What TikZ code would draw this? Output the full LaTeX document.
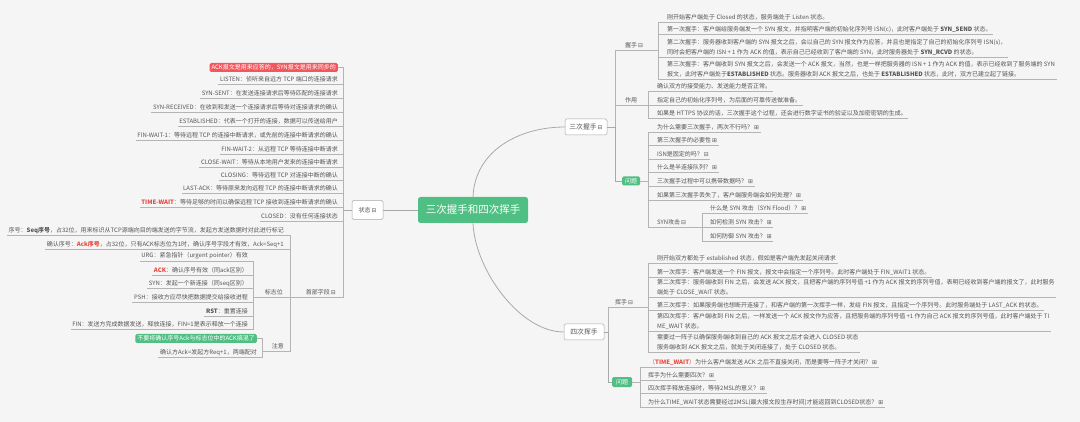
\documentclass[tikz,border=0pt]{standalone}
\usepackage{fontspec}
\setmainfont{Noto Sans CJK SC}
\newfontfamily\symf{DejaVu Sans}
\usetikzlibrary{calc}
\definecolor{bgc}{HTML}{F5F5F5}
\definecolor{txc}{HTML}{555555}
\definecolor{lnc}{HTML}{A9A9A9}
\definecolor{ulc}{HTML}{B4B4B4}
\definecolor{grn}{HTML}{50BF84}
\definecolor{redb}{HTML}{F2575D}
\definecolor{tred}{HTML}{E8483C}
\newcommand{\mn}{\,{\symf\fontsize{5.8}{5.8}\selectfont ⊟}}
\newcommand{\pl}{\,{\symf\fontsize{5.8}{5.8}\selectfont ⊞}}
\tikzset{
  txt/.style={inner sep=0pt,text=txc,font=\fontsize{6}{10.2}\selectfont},
  uline/.style={draw=ulc,line width=0.6pt},
  bline/.style={draw=lnc,line width=0.8pt},
  wbox/.style={draw=lnc,fill=white,rounded corners=1.5pt,text=txc,inner sep=0pt,line width=0.5pt},
  gbox/.style={fill=grn,rounded corners=1.5pt,text=white,inner sep=0pt,font=\fontsize{6}{6}\selectfont},
  rbox/.style={fill=redb,rounded corners=1.5pt,text=white,inner sep=0pt,font=\fontsize{6}{6}\selectfont}
}
% right item: name, parent coord, text x, underline y, text
\newcommand{\RI}[5]{%
  \node[txt,anchor=south west,align=left] (#1) at (#3,#4-1.4) {#5};
  \draw[uline] (#2) |- ($(#1.south east)+(1.5,1.4)$);}
% left item: name, parent coord, text right x, underline y, text
\newcommand{\LI}[5]{%
  \node[txt,anchor=south east,align=right] (#1) at (#3,#4-1.4) {#5};
  \draw[uline] (#2) |- ($(#1.south west)+(-1.5,1.4)$);}
\begin{document}
\begin{tikzpicture}[x=1pt,y=-1pt]
\useasboundingbox (0,0) rectangle (1080,422);
\fill[bgc] (0,0) rectangle (1080,422);

% central
\node[fill=grn,rounded corners=2.5pt,minimum width=110pt,minimum height=26pt,inner sep=0pt,text=white,font=\fontsize{10.5}{11}\selectfont] (c) at (473,210) {三次握手和四次挥手};

% ---------- three-way handshake ----------
\node[wbox,minimum width=42pt,minimum height=16pt,font=\fontsize{6.8}{7}\selectfont] (s3) at (586,127) {三次握手\mn};
\draw[bline] (c.north) .. controls (475,150) and (520,127) .. (s3.west);
\coordinate (p3) at (615,127);
\draw[bline] (s3.east) -- (p3);

\node[txt,anchor=south west] (ws) at (625,48.6) {握手\mn};
\coordinate (wsB) at (658,50);
\draw[uline] (p3) |- (wsB);
\RI{w1}{wsB}{667}{22}{刚开始客户端处于 Closed 的状态，服务端处于 Listen 状态。}
\RI{w2}{wsB}{667}{34}{第一次握手：客户端给服务端发一个 SYN 报文，并指明客户端的初始化序列号 ISN(c)，此时客户端处于 \textbf{SYN\_SEND} 状态。}
\RI{w3}{wsB}{667}{57}{第二次握手：服务器收到客户端的 SYN 报文之后，会以自己的 SYN 报文作为应答，并且也是指定了自己的初始化序列号 ISN(s)，\\同时会把客户端的 ISN + 1 作为 ACK 的值，表示自己已经收到了客户端的 SYN，此时服务器处于 \textbf{SYN\_RCVD} 的状态。}
\RI{w4}{wsB}{667}{79}{第三次握手：客户端收到 SYN 报文之后，会发送一个 ACK 报文，当然，也是一样把服务器的 ISN + 1 作为 ACK 的值，表示已经收到了服务端的 SYN\\报文，此时客户端处于\textbf{ESTABLISHED} 状态。服务器收到 ACK 报文之后，也处于 \textbf{ESTABLISHED} 状态，此时，双方已建立起了链接。}

\node[txt,anchor=south west] (zy) at (625,103.6) {作用};
\coordinate (zyB) at (648,105);
\draw[uline] (p3) |- (zyB);
\RI{z1}{zyB}{657}{91}{确认双方的接受能力、发送能力是否正常。}
\RI{z2}{zyB}{657}{105}{指定自己的初始化序列号，为后面的可靠传送做准备。}
\RI{z3}{zyB}{657}{118}{如果是 HTTPS 协议的话，三次握手这个过程，还会进行数字证书的验证以及加密密钥的生成。}

\node[gbox,minimum width=18pt,minimum height=9pt] (q3) at (631,181) {问题};
\draw[bline] (p3) |- (q3.west);
\coordinate (q3B) at (648,181);
\draw[uline] (q3.east) -- (q3B);
\RI{a1}{q3B}{657}{132}{为什么需要三次握手，两次不行吗？\pl}
\RI{a2}{q3B}{657}{145}{第三次握手的必要性\pl}
\RI{a3}{q3B}{657}{159}{ISN是固定的吗？\mn}
\RI{a4}{q3B}{657}{172}{什么是半连接队列？\pl}
\RI{a5}{q3B}{657}{186}{三次握手过程中可以携带数据吗？\pl}
\RI{a6}{q3B}{657}{200}{如果第三次握手丢失了，客户端服务端会如何处理？\pl}
\node[txt,anchor=south west] (syn) at (657,225.6) {SYN攻击\mn};
\coordinate (synB) at (702,227);
\draw[uline] (q3B) |- (synB);
\RI{b1}{synB}{710}{213}{什么是 SYN 攻击（SYN Flood）？\pl}
\RI{b2}{synB}{710}{227}{如何检测 SYN 攻击？\pl}
\RI{b3}{synB}{710}{241}{如何防御 SYN 攻击？\pl}

% ---------- four-way wave ----------
\node[wbox,minimum width=40pt,minimum height=16pt,font=\fontsize{6.8}{7}\selectfont] (s4) at (584,332) {四次挥手};
\draw[bline] (c.south) .. controls (475,270) and (520,332) .. (s4.west);
\coordinate (p4) at (608,332);
\draw[bline] (s4.east) -- (p4);

\node[txt,anchor=south west] (hs) at (615,305.6) {挥手\mn};
\coordinate (hsB) at (648,307);
\draw[uline] (p4) |- (hsB);
\RI{h1}{hsB}{657}{263}{刚开始双方都处于 established 状态，假如是客户端先发起关闭请求}
\RI{h2}{hsB}{657}{277}{第一次挥手：客户端发送一个 FIN 报文，报文中会指定一个序列号。此时客户端处于 FIN\_WAIT1 状态。}
\RI{h3}{hsB}{657}{297}{第二次挥手：服务端收到 FIN 之后，会发送 ACK 报文，且把客户端的序列号值 +1 作为 ACK 报文的序列号值，表明已经收到客户端的报文了，此时服务\\端处于 CLOSE\_WAIT 状态。}
\RI{h4}{hsB}{657}{310}{第三次挥手：如果服务端也想断开连接了，和客户端的第一次挥手一样，发给 FIN 报文，且指定一个序列号。此时服务端处于 LAST\_ACK 的状态。}
\RI{h5}{hsB}{657}{331}{第四次挥手：客户端收到 FIN 之后，一样发送一个 ACK 报文作为应答，且把服务端的序列号值 +1 作为自己 ACK 报文的序列号值，此时客户端处于 TI\\ME\_WAIT 状态。}
\RI{h6}{hsB}{657}{352}{需要过一阵子以确保服务端收到自己的 ACK 报文之后才会进入 CLOSED 状态\\服务端收到 ACK 报文之后，就处于关闭连接了，处于 CLOSED 状态。}

\node[gbox,minimum width=20pt,minimum height=10pt] (q4) at (622,382) {问题};
\draw[bline] (p4) |- (q4.west);
\coordinate (q4B) at (640,382);
\draw[uline] (q4.east) -- (q4B);
\RI{d1}{q4B}{649}{367}{\textcolor{tred}{（\textbf{TIME\_WAIT}）}为什么客户端发送 ACK 之后不直接关闭，而是要等一阵子才关闭？\pl}
\RI{d2}{q4B}{648}{380}{挥手为什么需要四次？\pl}
\RI{d3}{q4B}{648}{393}{四次挥手释放连接时，等待2MSL的意义？\pl}
\RI{d4}{q4B}{648}{407}{为什么TIME\_WAIT状态需要经过2MSL(最大报文段生存时间)才能返回到CLOSED状态？\pl}

% ---------- states (left) ----------
\node[wbox,minimum width=31pt,minimum height=19pt,font=\fontsize{6}{6}\selectfont] (st) at (367.5,210) {状态\mn};
\draw[bline] (c.west) -- (st.east);
\coordinate (pS) at (343,210);
\draw[bline] (st.west) -- (pS);

\node[rbox,anchor=east,minimum height=9pt,inner xsep=2pt] (ackn) at (338,67.5) {ACK报文是用来应答的，SYN报文是用来同步的};
\draw[uline] (pS) |- (ackn.east);
\LI{l1}{pS}{338}{84}{LISTEN：侦听来自远方 TCP 端口的连接请求}
\LI{l2}{pS}{338}{98}{SYN-SENT：在发送连接请求后等待匹配的连接请求}
\LI{l3}{pS}{338}{112}{SYN-RECEIVED：在收到和发送一个连接请求后等待对连接请求的确认}
\LI{l4}{pS}{338}{126}{ESTABLISHED：代表一个打开的连接，数据可以传送给用户}
\LI{l5}{pS}{338}{140}{FIN-WAIT-1：等待远程 TCP 的连接中断请求，或先前的连接中断请求的确认}
\LI{l6}{pS}{338}{154}{FIN-WAIT-2：从远程 TCP 等待连接中断请求}
\LI{l7}{pS}{338}{167}{CLOSE-WAIT：等待从本地用户发来的连接中断请求}
\LI{l8}{pS}{338}{180}{CLOSING：等待远程 TCP 对连接中断的确认}
\LI{l9}{pS}{338}{193}{LAST-ACK：等待原来发向远程 TCP 的连接中断请求的确认}
\LI{l10}{pS}{338}{207}{\textcolor{tred}{\textbf{TIME-WAIT}}：等待足够的时间以确保远程 TCP 接收到连接中断请求的确认}
\LI{l11}{pS}{338}{221}{CLOSED：没有任何连接状态}

% header fields
\node[txt,anchor=south east] (hd) at (336,295.6) {首部字段\mn};
\coordinate (hdB) at (290,297);
\draw[uline] (pS) |- (hdB);
\LI{f1}{hdB}{284}{235}{序号：\textbf{Seq序号}，占32位，用来标识从TCP源端向目的端发送的字节流，发起方发送数据时对此进行标记}
\LI{f2}{hdB}{284}{249}{确认序号：\textcolor{tred}{\textbf{Ack序号}}，占32位，只有ACK标志位为1时，确认序号字段才有效，Ack=Seq+1}
\node[txt,anchor=south east] (fl) at (283,295.6) {标志位};
\coordinate (flB) at (253,297);
\draw[uline] (hdB) -- (flB);
\LI{g1}{flB}{248}{261}{URG：紧急指针（urgent pointer）有效}
\LI{g2}{flB}{248}{275}{\textcolor{tred}{\textbf{ACK}}：确认序号有效（同ack区别）}
\LI{g3}{flB}{248}{288}{SYN：发起一个新连接（同seq区别）}
\LI{g4}{flB}{248}{302}{PSH：接收方应尽快把数据提交给接收进程}
\LI{g5}{flB}{248}{316}{\textbf{RST}：重置连接}
\LI{g6}{flB}{248}{329}{FIN：发送方完成数据发送，释放连接，FIN=1是表示释放一个连接}
\node[txt,anchor=south east] (zt) at (284,349.6) {注意};
\coordinate (ztB) at (262,351);
\draw[uline] (hdB) |- (ztB);
\node[gbox,anchor=east,minimum height=9pt,inner xsep=2pt] (gn) at (257,338.5) {不要将确认序号Ack与标志位中的ACK搞混了};
\draw[uline] (ztB) |- (gn.east);
\LI{n2}{ztB}{257}{357}{确认方Ack=发起方Req+1，两端配对}
\end{tikzpicture}
\end{document}
